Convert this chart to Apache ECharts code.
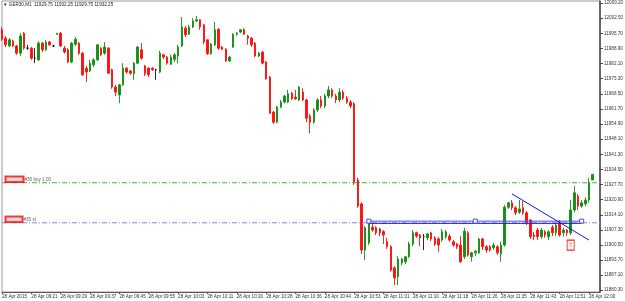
<!DOCTYPE html>
<html>
<head>
<meta charset="utf-8">
<script src="https://cdn.jsdelivr.net/npm/echarts@6/dist/echarts.min.js"></script>
<style>html,body{margin:0;padding:0;background:#fff}#chart{width:625px;height:301px}</style>
</head>
<body>
<div id="chart"></div>
<script>
"use strict";
const timeLabels = ['28 Apr 2015', '28 Apr 09:21', '28 Apr 09:29', '28 Apr 09:37', '28 Apr 09:45', '28 Apr 09:55',
    '28 Apr 10:03', '28 Apr 10:11', '28 Apr 10:20', '28 Apr 10:28', '28 Apr 10:36', '28 Apr 10:44', '28 Apr 10:53',
    '28 Apr 11:01', '28 Apr 11:10', '28 Apr 11:18', '28 Apr 11:26', '28 Apr 11:35', '28 Apr 11:43', '28 Apr 11:51',
    '28 Apr 12:00'];
const priceTicks = [11880.30, 11887.10, 11893.70, 11900.50, 11907.30, 11914.10, 11920.90, 11927.70, 11934.50,
    11941.30, 11948.10, 11954.90, 11961.70, 11968.50, 11975.30, 11982.10, 11988.90, 11995.70, 12002.50, 12009.20];
// open, close, low, high
const candles = [
    [11997.25, 11993.0, 11992.25, 11998.5], [11993.5, 11990.5, 11989.5, 11994.5], [11990.0, 11992.75, 11989.5, 11993.5],
    [11992.25, 11990.0, 11989.5, 11992.75], [11990.0, 11986.75, 11986.0, 11990.5], [11986.75, 11994.5, 11985.5, 11995.75],
    [11995.75, 11989.0, 11988.25, 11996.25], [11989.0, 11989.0, 11988.25, 11990.5], [11989.0, 11984.5, 11983.75, 11989.5],
    [11984.5, 11984.5, 11982.25, 11989.0], [11983.75, 11991.25, 11983.25, 11992.25], [11991.25, 11988.25, 11987.25, 11991.75],
    [11988.25, 11991.75, 11987.75, 11992.75], [11991.75, 11990.5, 11990.0, 11992.25], [11990.0, 11990.0, 11989.5, 11990.5],
    [11995.25, 11995.75, 11995.0, 11995.75], [11995.75, 11990.0, 11989.5, 11996.25], [11989.0, 11987.25, 11986.5, 11990.0],
    [11988.25, 11982.75, 11982.25, 11989.0], [11982.75, 11991.25, 11982.25, 11991.75], [11990.75, 11993.0, 11990.0, 11994.0],
    [11991.25, 11986.75, 11986.0, 11991.75], [11986.75, 11977.0, 11976.5, 11987.25], [11980.0, 11978.25, 11973.75, 11981.0],
    [11978.75, 11982.25, 11978.25, 11983.75], [11981.5, 11983.75, 11980.5, 11984.5], [11983.75, 11990.5, 11983.25, 11990.75],
    [11989.0, 11986.0, 11985.5, 11989.5], [11986.75, 11989.5, 11986.0, 11991.75], [11989.0, 11977.75, 11977.5, 11989.5],
    [11979.25, 11971.5, 11970.75, 11979.75], [11971.5, 11969.25, 11967.5, 11972.5], [11968.0, 11972.5, 11964.25, 11973.0],
    [11972.5, 11980.0, 11972.0, 11982.25], [11980.0, 11978.25, 11977.5, 11980.5], [11978.75, 11977.75, 11977.0, 11979.25],
    [11977.5, 11982.25, 11974.75, 11982.75], [11982.25, 11989.5, 11981.75, 11990.0], [11988.25, 11984.5, 11983.75, 11991.25],
    [11981.0, 11977.5, 11976.5, 11981.5], [11980.0, 11977.0, 11976.0, 11980.5], [11980.0, 11979.25, 11978.75, 11980.5],
    [11979.25, 11979.25, 11974.75, 11979.75], [11978.25, 11986.75, 11977.75, 11987.75], [11986.0, 11985.0, 11984.0, 11986.5],
    [11985.0, 11982.25, 11981.5, 11985.5], [11981.75, 11985.0, 11981.5, 11986.0], [11984.0, 11986.0, 11982.75, 11986.75],
    [11985.5, 11989.5, 11982.25, 11990.5], [11990.0, 11998.5, 11989.5, 12003.0], [11998.0, 11995.0, 11994.0, 11999.0],
    [11995.25, 11998.5, 11995.0, 11999.5], [11998.5, 12001.25, 11998.0, 12002.5], [12001.25, 12001.75, 12000.75, 12003.5],
    [12001.75, 11998.5, 11997.25, 12002.0], [11999.5, 11991.75, 11990.75, 11999.75], [11992.75, 11986.5, 11986.0, 11993.0],
    [11986.5, 11990.75, 11986.0, 11991.25], [11990.5, 11997.25, 11990.0, 12000.75], [11997.5, 11989.0, 11988.25, 11998.0],
    [11989.5, 11988.5, 11988.25, 11990.0], [11988.5, 11983.25, 11982.75, 11989.0], [11983.25, 11985.0, 11982.75, 11985.5],
    [11989.5, 11995.25, 11989.0, 11995.75], [11995.25, 11995.75, 11994.5, 11996.25], [11996.25, 11997.25, 11995.75, 11997.5],
    [11997.25, 11995.25, 11995.0, 11998.0], [11994.5, 11993.5, 11990.5, 11995.0], [11993.5, 11990.5, 11989.5, 11994.0],
    [11991.25, 11985.5, 11985.0, 11991.75], [11985.5, 11986.75, 11985.0, 11987.25], [11987.25, 11982.25, 11981.75, 11987.75],
    [11982.75, 11975.25, 11974.75, 11983.25], [11976.0, 11959.75, 11959.5, 11976.5], [11960.25, 11955.75, 11955.0, 11960.75],
    [11955.75, 11962.5, 11955.25, 11963.0], [11962.5, 11964.75, 11962.0, 11965.75], [11964.75, 11967.5, 11964.25, 11968.0],
    [11964.75, 11968.5, 11964.25, 11970.25], [11968.75, 11966.25, 11965.75, 11969.25], [11967.0, 11966.25, 11965.75, 11970.25],
    [11965.75, 11971.5, 11965.25, 11972.0], [11969.25, 11965.75, 11965.25, 11971.0], [11965.75, 11957.5, 11955.75, 11966.25],
    [11958.5, 11955.75, 11950.75, 11959.5], [11955.75, 11961.25, 11955.0, 11962.0], [11961.25, 11965.75, 11960.25, 11966.5],
    [11965.75, 11963.0, 11962.0, 11967.5], [11963.0, 11967.5, 11962.0, 11968.5], [11967.5, 11970.25, 11966.5, 11972.0],
    [11970.25, 11967.5, 11966.5, 11971.0], [11967.5, 11965.75, 11964.25, 11968.5], [11965.75, 11969.25, 11964.75, 11971.0],
    [11969.25, 11966.5, 11965.75, 11970.25], [11966.5, 11964.75, 11964.0, 11967.5], [11964.75, 11963.0, 11962.0, 11965.75],
    [11964.0, 11928.5, 11927.5, 11964.75], [11929.75, 11918.0, 11917.25, 11930.75], [11919.0, 11898.25, 11896.5, 11919.75],
    [11898.25, 11908.25, 11893.75, 11909.0], [11901.5, 11910.75, 11900.5, 11911.75], [11908.5, 11907.25, 11906.5, 11910.75],
    [11908.25, 11906.0, 11905.0, 11909.0], [11907.75, 11906.0, 11904.5, 11908.25], [11906.5, 11905.0, 11901.0, 11907.25],
    [11902.0, 11899.75, 11898.75, 11903.75], [11899.75, 11889.25, 11888.5, 11900.5], [11890.25, 11885.75, 11882.5, 11891.0],
    [11886.25, 11894.25, 11882.5, 11895.5], [11892.5, 11894.25, 11891.5, 11894.75], [11893.0, 11895.25, 11892.0, 11895.5],
    [11895.25, 11901.0, 11894.75, 11902.0], [11901.0, 11906.0, 11900.0, 11907.25], [11906.0, 11904.5, 11903.75, 11906.5],
    [11905.0, 11903.75, 11900.0, 11905.5], [11904.25, 11904.25, 11898.25, 11905.5], [11903.75, 11905.5, 11902.75, 11906.0],
    [11906.0, 11903.25, 11902.25, 11906.5], [11903.75, 11901.0, 11900.0, 11904.5], [11903.25, 11900.5, 11897.5, 11904.25],
    [11902.75, 11906.5, 11902.0, 11907.75], [11904.25, 11906.5, 11903.25, 11907.25], [11904.5, 11902.75, 11902.0, 11905.5],
    [11902.0, 11900.5, 11899.75, 11902.75], [11901.0, 11899.75, 11898.75, 11901.5], [11900.5, 11893.0, 11892.5, 11904.5],
    [11895.25, 11906.75, 11894.25, 11908.25], [11906.0, 11896.0, 11895.25, 11906.75], [11895.25, 11897.0, 11893.0, 11897.5],
    [11897.0, 11897.75, 11895.5, 11898.25], [11897.0, 11903.25, 11896.5, 11903.75], [11903.25, 11899.75, 11898.25, 11903.75],
    [11899.75, 11898.25, 11897.0, 11900.5], [11899.75, 11898.25, 11897.5, 11900.5], [11899.25, 11900.5, 11898.25, 11901.5],
    [11899.75, 11897.0, 11896.0, 11900.5], [11896.5, 11900.5, 11893.0, 11902.0], [11900.5, 11917.5, 11899.75, 11918.5],
    [11917.5, 11919.5, 11916.75, 11919.75], [11919.5, 11917.25, 11916.25, 11920.75], [11917.25, 11915.0, 11914.0, 11918.0],
    [11915.25, 11916.75, 11914.5, 11920.75], [11917.25, 11915.0, 11914.0, 11920.25], [11915.0, 11910.5, 11909.5, 11915.75],
    [11911.75, 11904.25, 11903.25, 11912.25], [11905.0, 11904.25, 11902.75, 11906.5], [11907.25, 11904.25, 11902.75, 11908.25],
    [11904.25, 11907.25, 11903.25, 11908.25], [11906.5, 11905.0, 11903.75, 11907.25], [11904.25, 11906.5, 11902.75, 11907.25],
    [11908.5, 11906.0, 11904.5, 11909.5], [11906.0, 11909.5, 11904.5, 11910.5], [11910.75, 11905.0, 11904.25, 11911.75],
    [11906.0, 11907.25, 11904.25, 11908.25], [11907.25, 11906.0, 11904.5, 11907.75], [11906.0, 11916.25, 11905.0, 11920.75],
    [11916.25, 11924.0, 11915.25, 11927.0], [11922.5, 11918.0, 11916.25, 11923.5], [11918.0, 11919.5, 11917.25, 11920.75],
    [11919.0, 11920.75, 11918.0, 11922.0], [11920.75, 11928.75, 11919.5, 11930.75], [11929.75, 11932.25, 11929.75, 11932.25]
];
const lastPrice = 11932.25;
const buyPrice = 11928.5;
const stopPrice = 11910.5;
const channelTop = 11911.25;
const channelBottom = 11910.25;
const channelFrom = 100, channelTo = 158, channelMid = 129;
const trendFrom = [139, 11923.5];
const trendTo = [160, 11902.75];
const arrowAt = [155, 11900.5];
const header = '\u25BC GER30,M1  11929.75 11932.25 11929.75 11932.25';

const barCount = candles.length + 2;
const lastBar = barCount - 1;
const categories = Array.from({ length: barCount }, (_, i) => String(i));
const FONT = 'Liberation Sans';
const DASH_DOT = [5, 2, 1, 2];

// a plain line through a few points, drawn through the axes
function segment(points, color, type, symbol) {
    return {
        type: 'line', data: points, silent: true,
        symbol: symbol || 'none', symbolSize: 4, showSymbol: !!symbol, showAllSymbol: true,
        itemStyle: { color: '#fff', borderColor: color, borderWidth: 1 },
        lineStyle: { color, width: 1, type },
        emphasis: { disabled: true }, z: 3
    };
}

function tradeLabel(price, text, boxWidth) {
    return {
        type: 'scatter', silent: true, symbolSize: 1, itemStyle: { color: 'rgba(0,0,0,0)' },
        data: [[0, price]], z: 4,
        label: {
            show: true, position: 'right', distance: 4, offset: [0, -3.5],
            formatter: '{b|}{t|' + text + '}',
            rich: {
                b: { width: boxWidth, height: 3.5, borderColor: '#ff0000', borderWidth: 2, backgroundColor: '#fff' },
                t: { fontSize: 4.6, color: '#333', fontFamily: FONT, padding: [0, 0, 0, 2] }
            }
        }
    };
}

const chart = echarts.init(document.getElementById('chart'));
chart.setOption({
    animation: false,
    title: {
        text: header, left: 3, top: 2, padding: 0,
        textStyle: { fontSize: 4.6, fontWeight: 'normal', color: '#222', fontFamily: FONT }
    },
    grid: {
        left: 2, right: 25, top: 1, bottom: 9, outerBoundsMode: 'none',
        show: true, borderColor: '#9a9a9a', borderWidth: 1
    },
    xAxis: {
        type: 'category',
        data: categories,
        boundaryGap: false,
        axisLine: { lineStyle: { color: '#555', width: 1 } },
        axisTick: { interval: 7, length: 2, lineStyle: { color: '#555' } },
        axisLabel: {
            interval: 7, align: 'left', margin: 2, fontSize: 4.6, color: '#333', fontFamily: FONT,
            formatter: (v, idx) => timeLabels[idx / 8] || ''
        },
        splitLine: { show: false }
    },
    yAxis: {
        type: 'value',
        position: 'right',
        min: 11879.4,
        max: 12010.2,
        axisLine: { show: true, lineStyle: { color: '#444', width: 1.5 } },
        axisTick: { show: true, customValues: priceTicks, length: 3, lineStyle: { color: '#444' } },
        axisLabel: {
            customValues: priceTicks, margin: 4, fontSize: 4.6, color: '#333', fontFamily: FONT,
            formatter: v => v.toFixed(2)
        },
        splitLine: { show: false }
    },
    series: [
        {
            type: 'candlestick',
            data: candles,
            barWidth: 2,
            z: 2,
            itemStyle: {
                color: '#138f13', color0: '#ff1010',
                borderColor: '#138f13', borderColor0: '#ff1010', borderColorDoji: '#111',
                borderWidth: 0.9
            },
            markLine: {
                silent: true, symbol: ['none', 'none'],
                lineStyle: { opacity: 0 },
                label: {
                    show: true, position: 'end', distance: 1, formatter: lastPrice.toFixed(2),
                    backgroundColor: '#000', color: '#fff', fontSize: 4.6, fontFamily: FONT, padding: [2, 2, 1, 2]
                },
                data: [{ yAxis: lastPrice }]
            },
            markPoint: {
                silent: true,
                data: [{
                    coord: arrowAt, symbol: 'rect', symbolSize: [7, 10],
                    itemStyle: { color: '#fff', borderColor: '#ff2020', borderWidth: 1 },
                    label: { show: true, position: 'inside', formatter: '\u21E7', color: '#ff2020', fontSize: 6 }
                }]
            }
        },
        segment([[0, buyPrice], [lastBar, buyPrice]], '#4caa4c', DASH_DOT),
        segment([[0, stopPrice], [lastBar, stopPrice]], '#8484f0', DASH_DOT),
        segment([[channelFrom, channelBottom], [channelTo, channelBottom]], '#22229a', 'solid'),
        segment([[channelFrom, channelTop], [channelMid, channelTop], [channelTo, channelTop]], '#4a4aff', 'solid', 'rect'),
        segment([trendFrom, trendTo], '#1010ff', 'solid'),
        tradeLabel(buyPrice, '#35 buy 1.00', 16),
        tradeLabel(stopPrice, '#35 sl', 15)
    ]
});
</script>
</body>
</html>
